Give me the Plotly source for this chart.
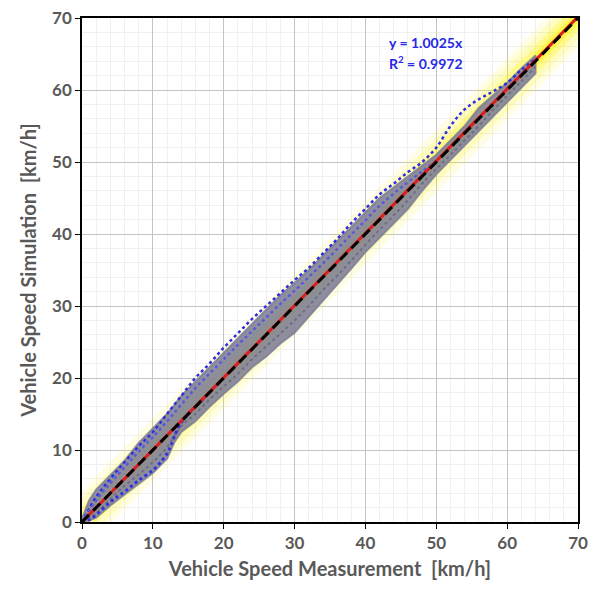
import plotly.graph_objects as go

# ---------------- data ----------------
# grey envelope of all measured/simulated points
env_x = [0, 1, 2, 4, 6, 8, 10, 12, 13, 14, 16, 18, 20, 22, 24, 26, 28, 30, 32, 34, 36, 38, 40,
         42, 44, 46, 48, 50, 52, 54, 56, 58, 60, 62, 64]
env_upper = [0.5, 3, 4.5, 6.5, 8.5, 11, 13, 15, 16.2, 17.5, 19.5, 21.5, 23.5, 25.5, 27.5, 29.5, 31.5,
             33.2, 35, 37, 39, 41, 43, 45, 46.5, 48, 49.5, 51, 53, 55, 57.5, 59.2, 61, 63, 64.8]
env_lower = [0, 0.2, 0.6, 2.3, 3.8, 5.3, 6.8, 8.8, 11, 12.5, 14, 16, 17.8, 19.5, 21.5, 23, 24.8,
             26.3, 28.5, 30.8, 33, 35.2, 37.5, 39.5, 41.5, 43.5, 46, 48.3, 50.3, 52.3, 54.3, 56.3,
             58.3, 60.3, 62.3]

# blue dotted runs
blue_a_x = [0, 2, 4, 6, 8, 10, 12, 14, 16, 18, 20, 22, 24, 26, 28, 30, 32, 34, 36, 38, 40, 42, 44,
            46, 48, 50, 52, 54, 56, 58, 60, 62, 64]
blue_a_y = [0, 3.5, 6, 8.3, 10.5, 12.5, 15, 17.5, 20, 22, 24.2, 26.2, 28.2, 30, 31.8, 33.6, 35.3,
            37.3, 39.3, 41.5, 43.5, 45.5, 47, 48.6, 50, 52, 55, 57.3, 58.7, 59.8, 61, 62.8, 64.3]
blue_b_x = [0, 2, 4, 6, 8, 10, 12, 14, 16, 18, 20, 22, 24, 26, 28, 30, 32, 34, 36, 38, 40, 42, 44,
            46, 48, 50]
blue_b_y = [0, 3, 5.4, 7.6, 9.8, 11.8, 14, 16.3, 18.6, 20.6, 22.6, 24.6, 26.5, 28.4, 30.3, 32.1,
            34, 35.9, 37.9, 39.9, 41.9, 43.9, 45.6, 47.2, 48.7, 50.2]
blue_c_x = [0, 1, 2, 4, 6, 8, 10, 11, 12, 12.5, 13, 14, 15, 16, 18]
blue_c_y = [0, 0.3, 1, 2.8, 4.2, 5.8, 7.2, 8.2, 9.5, 10.5, 11.8, 13.8, 15, 16, 18]

# grey run traces (texture inside the band)
grey_runs_x = [0, 2, 4, 6, 8, 10, 12, 14, 16, 18, 20, 22, 24, 26, 28, 30, 32, 34, 36, 38, 40, 42,
               44, 46, 48, 50, 52, 54, 56, 58, 60, 62, 64]
grey_run_1 = [0, 3.8, 5.8, 7.8, 10, 12, 14, 16.4, 18.6, 20.6, 22.5, 24.4, 26.3, 28.3, 30.2, 31.8,
              33.8, 35.8, 37.8, 39.8, 41.8, 43.7, 45.5, 47, 48.6, 50, 52, 54, 56.5, 58.5, 60.5, 62.5, 64.2]
grey_run_2 = [0, 1.2, 3.2, 5, 6.6, 8.3, 10.4, 13.3, 15, 17, 18.8, 20.6, 22.6, 24.4, 26.2, 28,
              30, 32.2, 34.2, 36.3, 38.5, 40.6, 42.6, 44.7, 47, 49, 51, 53, 55, 57.2, 59.2, 61.2, 63.2]
grey_run_3 = [0, 2.4, 4.4, 6.4, 8.3, 10.2, 12, 14, 16, 18, 20, 22, 24, 26, 28, 30, 32, 34, 36, 38,
              40, 42, 44, 46, 48, 50, 52, 54, 56, 58, 60, 62, 64]

# trend line (y = 1.0025x) and 1:1 reference
trend_x = [0, 70]
trend_y = [0, 70.175]
ref_x = [0, 70]
ref_y = [0, 70]

axis_ticks = [0, 10, 20, 30, 40, 50, 60, 70]

# ---------------- figure ----------------
fig = go.Figure()

# yellow glow around trend line
for w, a in [(44, 0.10), (32, 0.16), (20, 0.28), (10, 0.45)]:
    fig.add_trace(go.Scatter(x=trend_x, y=trend_y, mode="lines",
                             line=dict(color=f"rgba(255,245,0,{a})", width=w),
                             hoverinfo="skip", showlegend=False))

# grey band
fig.add_trace(go.Scatter(x=env_x + env_x[::-1], y=env_upper + env_lower[::-1],
                         mode="lines", fill="toself", fillcolor="rgba(126,126,152,0.88)",
                         line=dict(color="rgba(126,126,152,0.85)", width=2),
                         hoverinfo="skip", showlegend=False))

for run, col in [(grey_run_1, "rgba(150,150,185,0.9)"), (grey_run_2, "rgba(105,105,135,0.9)"),
                 (grey_run_3, "rgba(160,160,175,0.8)")]:
    fig.add_trace(go.Scatter(x=grey_runs_x, y=run, mode="lines",
                             line=dict(color=col, width=2, dash="dot", shape="spline"),
                             hoverinfo="skip", showlegend=False))

# blue dotted runs
fig.add_trace(go.Scatter(x=blue_a_x, y=blue_a_y, mode="lines",
                         line=dict(color="rgb(45,45,225)", width=2.5, dash="dot", shape="spline"),
                         hoverinfo="skip", showlegend=False))
fig.add_trace(go.Scatter(x=blue_b_x, y=blue_b_y, mode="lines",
                         line=dict(color="rgb(90,90,210)", width=2.5, dash="dot", shape="spline"),
                         hoverinfo="skip", showlegend=False))
fig.add_trace(go.Scatter(x=blue_c_x, y=blue_c_y, mode="lines",
                         line=dict(color="rgb(50,50,225)", width=3, dash="dot", shape="spline"),
                         hoverinfo="skip", showlegend=False))

# red trend + black dashed 1:1
fig.add_trace(go.Scatter(x=trend_x, y=trend_y, mode="lines",
                         line=dict(color="rgb(220,30,30)", width=3),
                         hoverinfo="skip", showlegend=False))
fig.add_trace(go.Scatter(x=ref_x, y=ref_y, mode="lines",
                         line=dict(color="black", width=3, dash="10px,6px"),
                         hoverinfo="skip", showlegend=False))

tick_font = dict(family="Lato", size=17, color="#595959", weight="bold")
title_font = dict(family="Lato", size=20, color="#595959", weight="bold")

axis_common = dict(range=[0, 70], tickvals=axis_ticks, showline=True, linecolor="black",
                   linewidth=1.5, mirror=True, ticks="outside", ticklen=5, tickcolor="black",
                   showgrid=True, gridcolor="#c4c4c4", gridwidth=1, zeroline=False,
                   tickfont=tick_font, automargin=False, ticklabeloverflow="allow",
                   minor=dict(dtick=2, showgrid=True, gridcolor="#f0f0f0", gridwidth=1))

fig.update_xaxes(**axis_common, title=dict(text="Vehicle Speed Measurement  [km/h]",
                                           font=title_font, standoff=10))
fig.update_yaxes(**axis_common, title=dict(text="Vehicle Speed Simulation  [km/h]",
                                           font=title_font, standoff=10))

fig.add_annotation(x=43, y=66.6, xref="x", yref="y", xanchor="left", yanchor="middle",
                   text="y = 1.0025x", showarrow=False,
                   font=dict(family="Lato", size=14, color="rgb(40,40,230)", weight="bold"))
fig.add_annotation(x=43, y=63.8, xref="x", yref="y", xanchor="left", yanchor="middle",
                   text="R<sup>2</sup> = 0.9972", showarrow=False,
                   font=dict(family="Lato", size=14, color="rgb(40,40,230)", weight="bold"))

# page body adds an 8px offset, margins compensate so plot area spans x 82-578, y 18-522
fig.update_layout(width=605, height=606, margin=dict(l=74, r=35, t=10, b=92),
                  plot_bgcolor="white", paper_bgcolor="white", showlegend=False)

fig.write_html("out.html")
